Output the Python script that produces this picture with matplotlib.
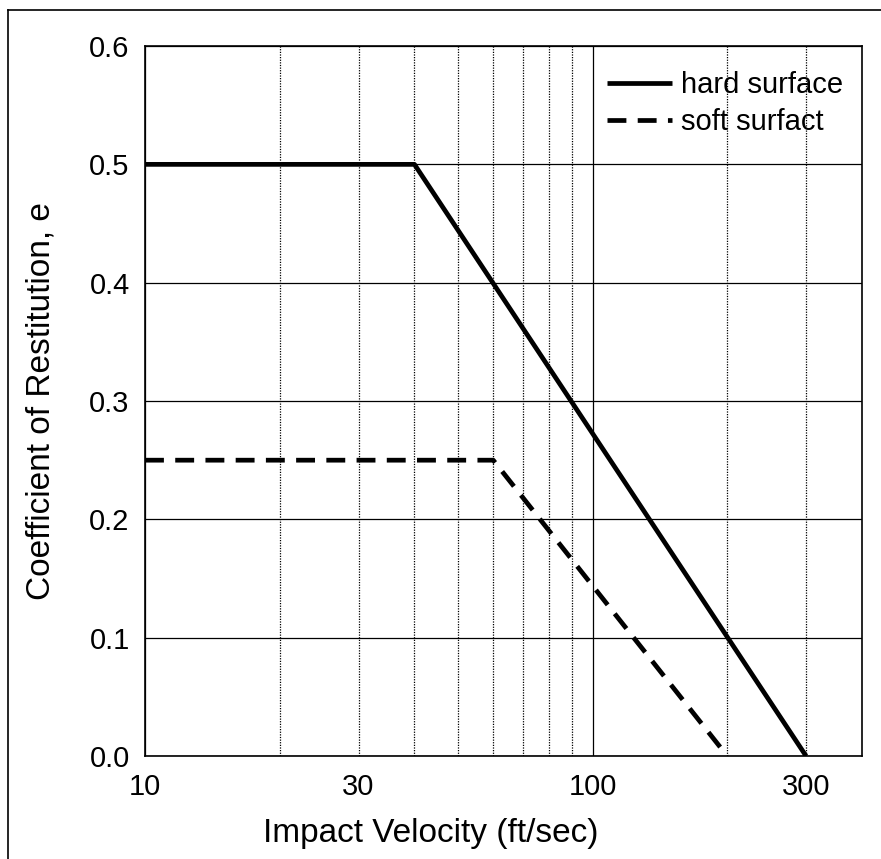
import numpy as np
import matplotlib
matplotlib.use("Agg")
import matplotlib.pyplot as plt
from matplotlib.ticker import FixedLocator, FixedFormatter
from matplotlib.lines import Line2D

plt.rcParams['font.family'] = ['Liberation Sans', 'DejaVu Sans']

# data
hard_v = [10, 40, 300]
hard_e = [0.5, 0.5, 0.0]
soft_v = [10, 60, 200]
soft_e = [0.25, 0.25, 0.0]

major_x = [10, 100]
minor_x = [20, 30, 40, 50, 60, 70, 80, 90, 200, 300]
minor_labels = ['', '30', '', '', '', '', '', '', '', '300']
y_ticks = [0.0, 0.1, 0.2, 0.3, 0.4, 0.5, 0.6]

fig = plt.figure(figsize=(8.81, 8.59), dpi=100)
ax = fig.add_axes([0.1646, 0.1199, 0.8138, 0.8265])

ax.plot(hard_v, hard_e, color='black', lw=3.4, solid_capstyle='butt',
        label='hard surface', zorder=3)
ax.plot(soft_v, soft_e, color='black', lw=3.4, dashes=(4.0, 2.4),
        label='soft surfact', zorder=3)

ax.set_xscale('log')
ax.set_xlim(10, 400)
ax.set_ylim(0, 0.6)

ax.xaxis.set_major_locator(FixedLocator(major_x))
ax.xaxis.set_major_formatter(FixedFormatter(['10', '100']))
ax.xaxis.set_minor_locator(FixedLocator(minor_x))
ax.xaxis.set_minor_formatter(FixedFormatter(minor_labels))
ax.set_yticks(y_ticks)
ax.set_yticklabels(['%.1f' % v for v in y_ticks])

ax.tick_params(axis='both', which='both', length=0, labelsize=21)
ax.tick_params(axis='x', which='both', pad=12)
ax.tick_params(axis='y', pad=11)

ax.grid(True, which='major', axis='both', color='black', lw=0.9, ls='-')
ax.grid(True, which='minor', axis='x', color='black', lw=0.9, ls=(0, (1.0, 1.1)))
ax.set_axisbelow(True)

for s in ax.spines.values():
    s.set_color('black')
    s.set_linewidth(1.2)

# excel centres the axis titles on the chart area, not the plot area
ax.set_xlabel('Impact Velocity (ft/sec)', fontsize=24, labelpad=9)
ax.xaxis.set_label_coords(0.399, -0.088)
ax.set_ylabel('Coefficient of Restitution, e', fontsize=24, labelpad=24)

ax.legend(loc='upper left', bbox_to_anchor=(0.644, 0.965), frameon=False,
          fontsize=21, handlelength=2.25, handletextpad=0.3,
          labelspacing=0.32, borderpad=0, borderaxespad=0)

# outer border of the scanned figure
fig.add_artist(Line2D([8 / 881, 8 / 881], [0, 1 - 10 / 859], color='black', lw=1.2))
fig.add_artist(Line2D([8 / 881, 1], [1 - 10 / 859, 1 - 10 / 859], color='black', lw=1.2))

fig.savefig('out.png', dpi=100)
